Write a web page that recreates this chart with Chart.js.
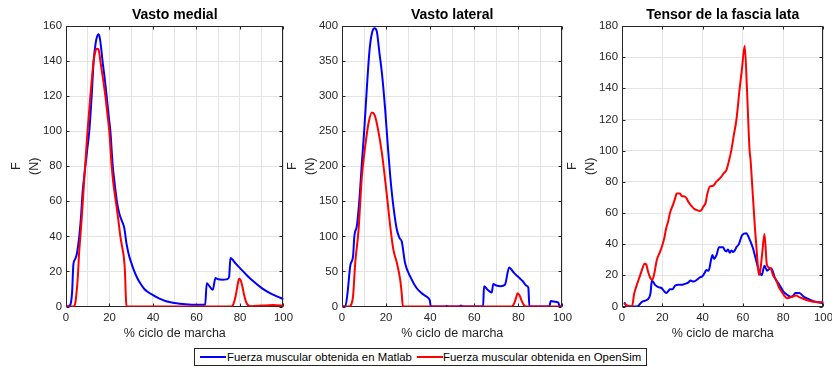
<!DOCTYPE html>
<html>
<head>
<meta charset="utf-8">
<script src="https://cdn.jsdelivr.net/npm/chart.js@4"></script>
<style>
  body { margin: 0; background: #fff; width: 832px; height: 367px; position: relative; overflow: hidden;
         font-family: 'Liberation Sans', Arial, sans-serif; }
  canvas { position: absolute; top: 0; }
  #legend { position: absolute; left: 194px; top: 348px; width: 453px; height: 18px; box-sizing: border-box;
            border: 1px solid #262626; background: #fff; }
  #legend .ln { position: absolute; top: 7px; width: 26px; height: 2px; }
  #legend .tx { position: absolute; top: 0; height: 16px; line-height: 16px; font-size: 11.4px; color: #000; white-space: nowrap; }
</style>
</head>
<body>
<canvas id="c1" width="298" height="347" style="left:0px"></canvas>
<canvas id="c2" width="301" height="347" style="left:276px"></canvas>
<canvas id="c3" width="282" height="347" style="left:556px"></canvas>
<div id="legend">
  <div class="ln" style="left:5px;background:#0000ff"></div>
  <span class="tx" style="left:32px">Fuerza muscular obtenida en Matlab</span>
  <div class="ln" style="left:222px;background:#ff0000"></div>
  <span class="tx" style="left:248px">Fuerza muscular obtenida en OpenSim</span>
</div>
<script>
// [% ciclo de marcha, F (N)] pairs for each muscle

// Vasto medial
const vmMatlab = [[0,0],[1,0],[2,1],[2.8,8],[3.4,24],[4.2,27],[4.9,29.5],[5.5,34],[6.1,40],[6.9,51],[7.6,64.6],
  [8.9,80],[9.8,90],[10.7,100],[11.8,120],[12.7,140],[13.6,150],[14.3,154],[14.9,155.3],[15.5,153.5],[16.2,147],
  [16.8,140],[17.8,130],[18.7,120],[19.5,110],[20.4,100],[21.5,80],[22.4,70],[23.4,60],[24.5,53],[25.8,48.5],
  [26.8,44.7],[27.8,36],[28.8,30],[30,25],[31.1,21],[32.5,17],[34,13.5],[36,10],[38,8],[40,6.5],[43,4.5],
  [46,3],[50,2],[55,1.3],[60,1],[64,1],[64.7,13.3],[66,11.5],[67.5,9.5],[68.7,16.2],[70,15.5],[72,15.3],
  [74,15.5],[75,17],[75.6,27.6],[78,24.5],[80,21.9],[83,18],[86,14.5],[90,10.5],[94,7.5],[97,5.8],[100,4.2]];
const vmOpenSim = [[0,0],[3.8,0],[4.4,3],[5,10],[5.5,18],[6,30],[6.6,40],[7.2,50],[8,65],[8.9,82],[9.9,100],
  [11.2,120],[12.7,140],[13.5,145.5],[14.3,147],[15,146.5],[15.8,140],[17,130],[18.1,120],[19,110],[19.9,100],
  [21,80],[21.8,70],[22.9,60],[24,50],[25,40],[25.8,34],[26.6,28],[27.1,20],[27.5,6],[27.8,0],[76,0],[77,1.5],
  [78,6],[79,13],[79.6,15.8],[80.3,15],[81,12],[82,6],[83,2],[84,0.5],[85,0.2],[90,0.5],[95,0.8],[100,0.5]];

// Vasto lateral
const vlMatlab = [[0,0],[1.5,0],[2.5,19],[3.8,59],[5,71],[5.6,100],[6.8,116],[8,157],[9,204],[10.1,252],
  [11.3,313],[12.5,366],[13.6,390],[14.8,396.7],[15.8,392],[17,361],[18.1,333],[19.6,280],[20.8,228],[21.9,185],
  [23.3,143],[24.9,109],[26.1,97.5],[27.1,92.6],[28.6,62],[30.9,43],[33.9,26],[36.9,17],[39.2,12],[39.8,9],
  [40.3,0],[47,0],[47.5,1],[48,0],[53,0],[54,1.5],[55,0],[64,0],[64.4,29],[66,24],[67.9,20],[68.6,32],[70,30],
  [72,29],[73.9,31],[75.8,55.6],[78,48],[80,42],[82,36],[83.7,29.5],[84.5,27],[85,0],[94,0],[94.7,8],[96,7],
  [98,6],[98.8,0],[99.6,0],[100,3]];
const vlOpenSim = [[0,0],[3.4,0],[4.2,3],[5,14],[6,62],[7.5,109],[9,185],[10.5,228],[12,261],[13.6,276.5],
  [14.8,273],[16.1,256.5],[18.1,218.6],[20.4,157],[21.9,114],[23.3,81],[24.9,62],[26.4,38],[27.1,18],[27.6,0],
  [77,0],[78,4],[79,13],[79.6,19],[80.5,16],[81.5,8],[82.5,2],[83.5,0],[100,0]];

// Tensor de la fascia lata
const tflMatlab = [[1.1,2.6],[2,1],[3,0],[7.4,0],[8.5,1],[9.9,3],[12,4],[13.6,6],[14.2,9],[14.8,16.7],[16.4,13.9],
  [18,12.5],[19.7,11.8],[20.8,10],[21.9,8.6],[23,10],[23.8,11],[25,11],[26.3,13.3],[28,14],[30,14],[31.2,14.5],
  [33,15.5],[34,16.7],[35.5,16],[37,17],[38.6,18.6],[40,19.5],[41.2,22],[41.9,23.5],[43,23],[44.2,30],[44.9,33.1],
  [45.7,30.5],[46.9,33],[48.2,38.1],[50.2,38],[51,36],[51.8,35.3],[52.6,36.5],[53.5,34.5],[54.3,36],[55.1,35],
  [56,36],[56.8,38.1],[58,40],[59.7,46],[61.7,47],[63,44],[65,37.4],[66.5,30],[67.5,25],[68.6,21.4],[69.3,20],
  [70.7,26.1],[72,23],[73,24],[74,24.6],[76,18],[78.1,14],[80.1,9.6],[82,7.5],[83.9,6.2],[85,7],[86,8.6],
  [88,8.6],[90.5,6],[93,4.5],[96,3],[100,2.2]];
const tflOpenSim = [[1,2.1],[2,1],[3,0.3],[5,0],[6,8],[6.6,10.7],[7.5,14.5],[9,20],[9.9,23.5],[11.2,27.5],
  [12,27],[13,22],[14,18.5],[15,17],[16,21],[17.3,30],[18.5,34],[19.7,38],[21,44],[21.9,50],[23,55],[23.8,60],
  [25.5,66],[26.5,70],[27.1,72.5],[28.8,72.5],[29.5,71],[31.2,70.5],[32,69.5],[33,67],[34.5,64.5],[36,62.5],
  [37,62],[38.6,61.3],[39.5,62],[40.3,64],[41.5,66.5],[42.3,72],[43.6,77],[45.2,77.5],[46.9,80.2],[48,81.5],
  [49.4,83.5],[50.5,85.5],[51.8,87.5],[53,93],[54.3,100.5],[55.5,110],[56.8,120],[58.4,140],[59.5,152],
  [60.9,167.4],[62,140],[63.3,100.5],[63.8,94],[65,70],[66,50],[67,33],[67.9,20.3],[68.5,22],[69.5,33],
  [70.7,46.6],[71.9,26.7],[73,25],[74,24],[75,20],[76.5,17],[78,12],[79,10],[80.6,6.9],[82,5.3],[84,6],
  [86.4,7],[88,6],[90,5],[92,4],[95,3],[98,2.8],[100,3]];

const titles = ['Vasto medial', 'Vasto lateral', 'Tensor de la fascia lata'];
const yMaxes = [160, 400, 180];
const ySteps = [20, 50, 20];
const xSteps = [10, 10, 20];
const seriesLabels = ['Fuerza muscular obtenida en Matlab', 'Fuerza muscular obtenida en OpenSim'];

Chart.defaults.font.family = "'Liberation Sans', Arial, sans-serif";
Chart.defaults.color = '#262626';

const toPoints = arr => arr.map(([x, y]) => ({ x, y }));

// box around the plot area with inward tick marks
const axesBox = {
    id: 'axesBox',
    beforeDatasetsDraw(chart) {
        const { ctx, chartArea: a, scales: { x, y } } = chart;
        const L = Math.round(a.left) + 0.5, R = Math.round(a.right) - 0.5;
        const T = Math.round(a.top) + 0.5, B = Math.round(a.bottom) - 0.5;
        ctx.save();
        ctx.strokeStyle = '#262626';
        ctx.lineWidth = 1;
        ctx.strokeRect(L, T, R - L, B - T);
        ctx.beginPath();
        x.ticks.forEach(t => {
            if (t.value % 20 !== 0) return;
            const px = Math.round(x.getPixelForValue(t.value)) + 0.5;
            ctx.moveTo(px, B); ctx.lineTo(px, B - 3);
            ctx.moveTo(px, T); ctx.lineTo(px, T + 3);
        });
        y.ticks.forEach(t => {
            const py = Math.round(y.getPixelForValue(t.value)) + 0.5;
            ctx.moveTo(L, py); ctx.lineTo(L + 3, py);
            ctx.moveTo(R, py); ctx.lineTo(R - 3, py);
        });
        ctx.stroke();
        ctx.restore();
    }
};

function makePanel(id, i, matlab, opensim) {
    new Chart(document.getElementById(id), {
        type: 'line',
        data: {
            datasets: [
                { label: seriesLabels[1], data: toPoints(opensim), borderColor: '#ff0000', order: 0 },
                { label: seriesLabels[0], data: toPoints(matlab), borderColor: '#0000ff', order: 1 }
            ]
        },
        options: {
            responsive: false,
            animation: false,
            events: [],
            datasets: { line: { borderWidth: 2, pointRadius: 0, cubicInterpolationMode: 'monotone', fill: false } },
            layout: { padding: { left: 0, top: 0, right: 14, bottom: 0 } },
            scales: {
                x: {
                    type: 'linear', min: 0, max: 100,
                    ticks: { stepSize: xSteps[i], autoSkip: false, maxRotation: 0, padding: 5,
                             font: { size: 11.4 }, callback: v => (v % 20 === 0 ? v : '') },
                    grid: { color: '#e4e4e4', drawTicks: false },
                    border: { display: false },
                    title: { display: true, text: '% ciclo de marcha', font: { size: 12.5 },
                             padding: { top: 0, bottom: 6 } },
                    afterFit: s => { s.height = 40.5; }
                },
                y: {
                    type: 'linear', min: 0, max: yMaxes[i],
                    ticks: { stepSize: ySteps[i], padding: 4, font: { size: 11.4 } },
                    grid: { color: '#e4e4e4', drawTicks: false },
                    border: { display: false },
                    title: { display: true, text: ['F', '(N)'], font: { size: 12.5, lineHeight: '18px' },
                             padding: { top: 7.5, bottom: 0 } },
                    afterFit: s => { s.width = 66; }
                }
            },
            plugins: {
                legend: { display: false },
                tooltip: { enabled: false },
                title: { display: true, text: titles[i], fullSize: false, color: '#000',
                         font: { size: 14, weight: 'bold', lineHeight: 1.2 },
                         padding: { top: 6.9, bottom: 2.3 } }
            }
        },
        plugins: [axesBox]
    });
}

makePanel('c1', 0, vmMatlab, vmOpenSim);
makePanel('c2', 1, vlMatlab, vlOpenSim);
makePanel('c3', 2, tflMatlab, tflOpenSim);
</script>
</body>
</html>
